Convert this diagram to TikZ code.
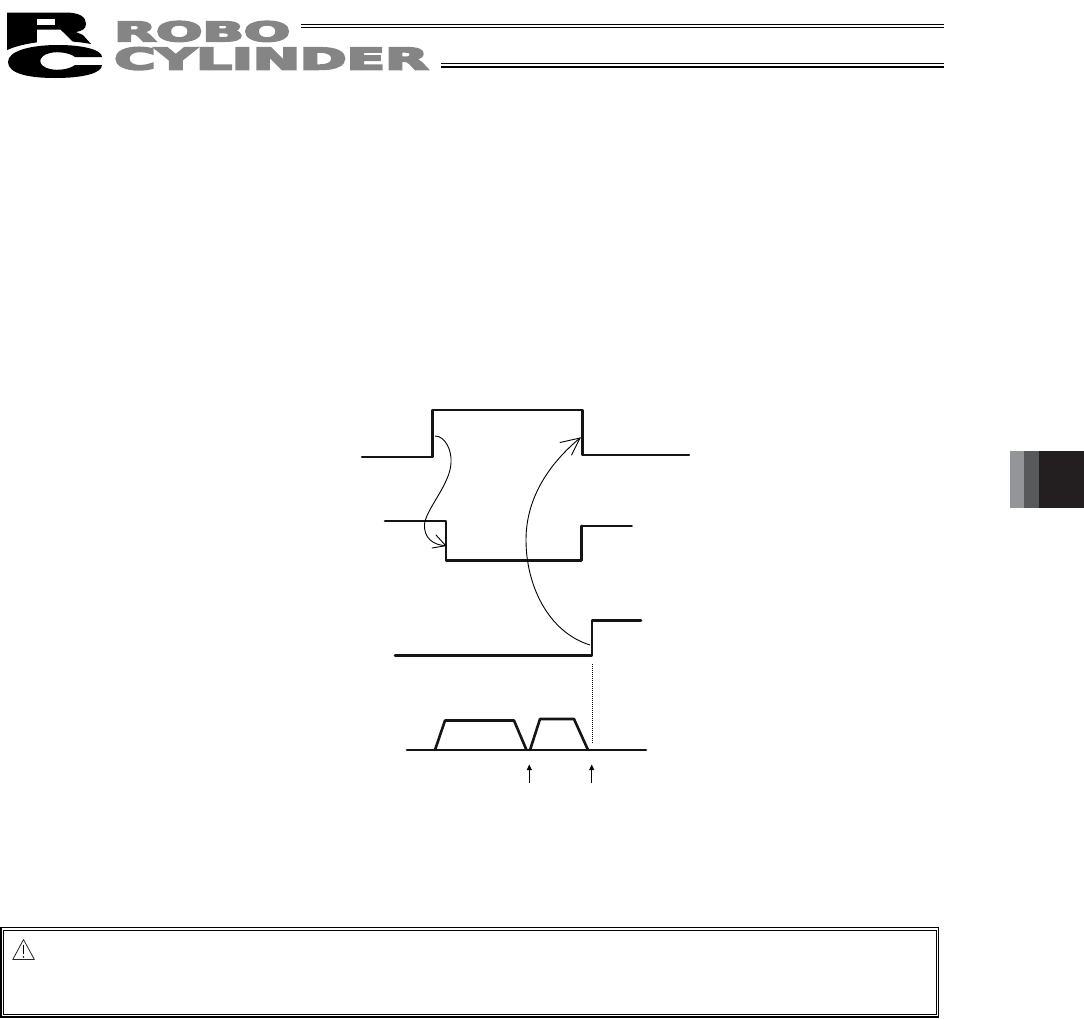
\documentclass[tikz,border=0pt]{standalone}
\usepackage{graphicx}
\usepackage{fontspec}
\setmainfont{Liberation Sans}
\newfontfamily\logofont[BoldFeatures={FakeBold=6}]{DejaVu Sans}
\usetikzlibrary{arrows.meta}
\definecolor{logogray}{HTML}{858585}
\definecolor{tabdark}{HTML}{231F20}
\definecolor{tabmid}{HTML}{58595B}
\definecolor{tablight}{HTML}{939598}
\tikzset{
 sig/.style={line width=2.6pt,line join=round,line cap=round,color=black!92},
 thinarrow/.style={line width=0.9pt},
 tick/.style={line width=1pt,-{Triangle[length=5.5pt,width=5pt]}},
 logotext/.style={inner sep=0pt,anchor=south west,text=logogray}
}
\begin{document}
\begin{tikzpicture}[x=1pt,y=-1pt]
\useasboundingbox (0,0) rectangle (1084,1018);
% logo: R
\fill[black] (7,12.5) -- (65,12.5) .. controls (80,12.5) and (86,17) .. (86,24) .. controls (86,29) and (82,31) .. (76,32) -- (83,35) -- (91,44) .. controls (65,39) and (30,40) .. (7,50) -- cycle;
\fill[white] (37,18.5) rectangle (55,24.5);
\fill[white] (37,29.5) -- (60,29.5) .. controls (64,33) and (68,37) .. (74,43) -- (37,44) -- cycle;
% logo: C
\fill[black] (8,62) .. controls (8,51) and (30,45) .. (58,45) .. controls (84,45) and (102,50) .. (102,57) -- (75,57) .. controls (70,53) and (58,51) .. (50,53) .. controls (37,56) and (37,66) .. (50,69) .. controls (58,71) and (70,69) .. (75,65) -- (102,65) .. controls (102,73) and (84,78) .. (55,78) .. controls (30,78) and (8,74) .. (8,62) -- cycle;
\node[logotext] (robo) at (114,41.8) {\resizebox{176pt}{20pt}{\logofont\bfseries ROBO}};
\node[logotext] (cyl) at (114,70) {\resizebox{314pt}{22pt}{\logofont\bfseries CYLINDER}};
% header rules
\fill (301,23.7) rectangle (944,25);
\fill (301,26.8) rectangle (944,28);
\fill (441,62.7) rectangle (944,64);
\fill (441,65.5) rectangle (944,68);
% side tab
\fill[tablight] (1010,451) rectangle (1024,508);
\fill[tabmid] (1024,451) rectangle (1039,508);
\fill[tabdark] (1039,451) rectangle (1084,508);
% signals
\coordinate (a0) at (362,457); \coordinate (a1) at (432.5,457); \coordinate (a2) at (432.5,410);
\coordinate (a3) at (582.5,410); \coordinate (a4) at (582.5,455); \coordinate (a5) at (689,455);
\draw[sig] (a0) -- (a1) -- (a2) -- (a3) -- (a4) -- (a5);
\coordinate (b0) at (385,521); \coordinate (b1) at (446,521); \coordinate (b2) at (446,560.5);
\coordinate (b3) at (581.5,560.5); \coordinate (b4) at (581.5,526); \coordinate (b5) at (632,526);
\draw[sig] (b0) -- (b1) -- (b2) -- (b3) -- (b4);
\draw[sig,line width=1.6pt] (b4) -- (b5);
\coordinate (c0) at (395,655.5); \coordinate (c1) at (592,655.5); \coordinate (c2) at (592,620.5); \coordinate (c3) at (641,620.5);
\draw[sig] (c0) -- (c1) -- (c2) -- (c3);
\coordinate (d0) at (407,750); \coordinate (d1) at (435,750); \coordinate (d2) at (445,720.5);
\coordinate (d3) at (514,720.5); \coordinate (d4) at (526.5,750); \coordinate (d5) at (530,750);
\coordinate (d6) at (540,719); \coordinate (d7) at (574,719); \coordinate (d8) at (588,750); \coordinate (d9) at (646,750);
\draw[sig] (d0) -- (d9);
\draw[sig] (d1) -- (d2) -- (d3) -- (d4);
\draw[sig] (d5) -- (d6) -- (d7) -- (d8);
% causal arrows
\coordinate (s1) at (435,436); \coordinate (e1) at (445.7,545.7);
\coordinate (e1a) at (432,548); \coordinate (e1b) at (436,535);
\draw[thinarrow] (s1) .. controls (445,436) and (452,450) .. (451,463) .. controls (450,485) and (425,510) .. (424.5,525) .. controls (424,537) and (432,545) .. (e1);
\draw[thinarrow,line cap=round] (e1a) -- (e1) -- (e1b);
\coordinate (s2) at (590,645); \coordinate (e2) at (580,438);
\coordinate (e2a) at (560,442.5); \coordinate (e2b) at (571.5,455);
\draw[thinarrow] (s2) .. controls (548,632) and (526,585) .. (526,540) .. controls (526,497) and (550,463) .. (e2);
\draw[thinarrow,line cap=round] (e2a) -- (e2) -- (e2b);
% dotted
\coordinate (v0) at (592.5,664); \coordinate (v1) at (592.5,743);
\draw[line width=0.9pt,line cap=butt,dash pattern=on 1pt off 1pt] (v0) -- (v1);
% small up arrows
\coordinate (t1) at (529.3,783); \coordinate (h1) at (529.3,764.5);
\coordinate (t2) at (591.7,783); \coordinate (h2) at (591.7,764.5);
\draw[tick] (t1) -- (h1);
\draw[tick] (t2) -- (h2);
% caution box
\draw[line width=1.1pt] (1,927.5) rectangle (938.5,1017);
\draw[line width=0.9pt] (3.5,930) rectangle (936,1014.5);
% warning triangle
\coordinate (w1) at (23.5,939.5); \coordinate (w2) at (12.8,959.5); \coordinate (w3) at (34.4,959.5);
\draw[line width=0.8pt,line join=round,draw=black!85] (w1) -- (w2) -- (w3) -- cycle;
\draw[line width=1pt] (23.5,944.5) -- (23.5,954);
\fill (23.5,957) circle (0.8);
\end{tikzpicture}
\end{document}
